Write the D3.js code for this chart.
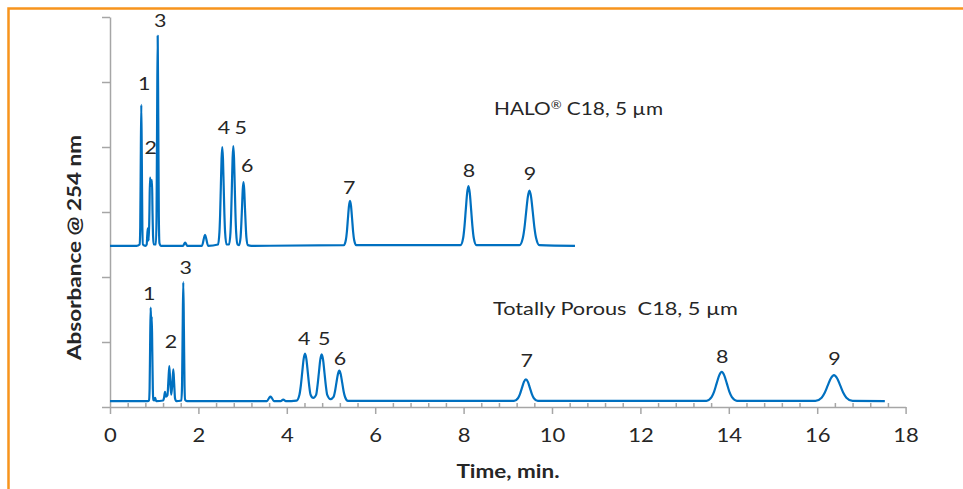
<!DOCTYPE html>
<html>
<head>
<meta charset="utf-8">
<script src="https://cdn.jsdelivr.net/npm/d3@7"></script>
<style>
  html, body { margin: 0; padding: 0; background: #ffffff; }
  svg { display: block; }
  text { font-family: "Lato", "Open Sans", sans-serif; fill: #262626; }
</style>
</head>
<body>
<svg id="chart" width="963" height="489"></svg>
<script>
// ---------------- data ----------------
// time (min), absorbance (arbitrary, offset traces)
const haloTrace = [
  [0, 2.48], [0.60, 2.48], [0.672, 2.50], [0.684, 2.77], [0.696, 3.80], [0.708, 4.65], [0.720, 3.80], [0.732, 2.77], [0.745, 2.50],
  [0.80, 2.48], [0.83, 2.50], [0.853, 2.75], [0.876, 2.56], [0.892, 3.00], [0.905, 3.53], [0.927, 3.40], [0.950, 3.49],
  [0.962, 3.00], [0.975, 2.62], [0.99, 2.50], [1.039, 2.50], [1.053, 2.92], [1.066, 4.45], [1.079, 5.71], [1.092, 4.45],
  [1.105, 2.92], [1.119, 2.52], [1.15, 2.48], [1.65, 2.48], [1.70, 2.53], [1.75, 2.48], [2.08, 2.48], [2.15, 2.65], [2.22, 2.48],
  [2.444, 2.50], [2.476, 2.69], [2.492, 2.97], [2.508, 3.40], [2.524, 3.82], [2.54, 4.00], [2.556, 3.82], [2.572, 3.40],
  [2.588, 2.97], [2.604, 2.69], [2.636, 2.50], [2.694, 2.50], [2.726, 2.69], [2.742, 2.98], [2.758, 3.41], [2.774, 3.83],
  [2.79, 4.015], [2.806, 3.83], [2.822, 3.41], [2.838, 2.98], [2.854, 2.69], [2.886, 2.50], [2.92, 2.49], [2.954, 2.61],
  [2.97, 2.80], [2.987, 3.07], [3.0035, 3.345], [3.02, 3.46], [3.0365, 3.345], [3.053, 3.07], [3.07, 2.80], [3.086, 2.61],
  [3.12, 2.49], [3.2, 2.48], [5.29, 2.49], [5.336, 2.57], [5.36, 2.70], [5.383, 2.90], [5.4065, 3.09], [5.43, 3.17],
  [5.4535, 3.09], [5.477, 2.90], [5.50, 2.70], [5.524, 2.57], [5.57, 2.49], [7.93, 2.49], [7.99, 2.60], [8.02, 2.78],
  [8.05, 3.04], [8.08, 3.29], [8.11, 3.40], [8.14, 3.29], [8.17, 3.04], [8.20, 2.78], [8.23, 2.60], [8.29, 2.49],
  [9.265, 2.49], [9.34, 2.60], [9.3775, 2.76], [9.415, 3.00], [9.4525, 3.23], [9.49, 3.33], [9.5275, 3.23], [9.565, 3.00],
  [9.6025, 2.76], [9.64, 2.60], [9.715, 2.49], [10.52, 2.48]
];

const porousTrace = [
  [0, 0.09], [0.85, 0.09], [0.884, 0.10], [0.896, 0.28], [0.908, 0.96], [0.92, 1.53], [0.932, 1.25], [0.945, 1.39],
  [0.957, 0.85], [0.969, 0.28], [0.981, 0.11], [1.00, 0.10], [1.02, 0.14], [1.045, 0.09], [1.20, 0.10], [1.225, 0.15],
  [1.244, 0.235], [1.265, 0.16], [1.30, 0.18], [1.322, 0.42], [1.342, 0.63], [1.362, 0.40], [1.385, 0.19], [1.412, 0.38],
  [1.433, 0.58], [1.452, 0.36], [1.472, 0.13], [1.50, 0.09], [1.615, 0.10], [1.63, 0.34], [1.644, 1.20], [1.658, 1.92],
  [1.672, 1.20], [1.686, 0.34], [1.70, 0.11], [1.74, 0.09], [3.55, 0.09], [3.60, 0.14], [3.63, 0.16], [3.66, 0.14],
  [3.71, 0.09], [3.86, 0.09], [3.92, 0.115], [3.98, 0.09], [4.22, 0.098], [4.286, 0.189], [4.317, 0.327], [4.349, 0.533],
  [4.38, 0.734], [4.412, 0.82], [4.444, 0.734], [4.475, 0.533], [4.507, 0.327], [4.538, 0.189], [4.60, 0.14],
  [4.663, 0.187], [4.694, 0.324], [4.726, 0.527], [4.757, 0.725], [4.789, 0.81], [4.821, 0.725], [4.852, 0.527],
  [4.884, 0.324], [4.915, 0.187], [4.99, 0.12], [5.058, 0.154], [5.091, 0.243], [5.123, 0.375], [5.156, 0.505],
  [5.188, 0.56], [5.22, 0.505], [5.253, 0.375], [5.285, 0.243], [5.318, 0.154], [5.383, 0.095], [9.14, 0.094],
  [9.23, 0.135], [9.275, 0.199], [9.32, 0.294], [9.365, 0.387], [9.41, 0.426], [9.455, 0.387], [9.50, 0.294],
  [9.545, 0.199], [9.59, 0.135], [9.68, 0.094], [13.495, 0.095], [13.61, 0.151], [13.668, 0.236], [13.725, 0.363],
  [13.783, 0.487], [13.84, 0.54], [13.897, 0.487], [13.955, 0.363], [14.012, 0.236], [14.07, 0.151], [14.185, 0.095],
  [15.96, 0.094], [16.10, 0.144], [16.17, 0.22], [16.24, 0.333], [16.31, 0.443], [16.38, 0.49], [16.45, 0.443],
  [16.52, 0.333], [16.59, 0.22], [16.66, 0.144], [16.80, 0.094], [17.53, 0.09]
];

const peakNames = ["1", "2", "3", "4", "5", "6", "7", "8", "9"];
const haloLabelPos = [[0.776, 4.88], [0.921, 3.89], [1.138, 5.84], [2.579, 4.195], [2.957, 4.195], [3.106, 3.62], [5.41, 3.27], [8.12, 3.54], [9.50, 3.49]];
const porousLabelPos = [[0.889, 1.646], [1.380, 0.912], [1.713, 2.046], [4.396, 0.954], [4.848, 0.954], [5.204, 0.646], [9.43, 0.61], [13.85, 0.68], [16.39, 0.646]];

const xTicks = [0, 2, 4, 6, 8, 10, 12, 14, 16, 18];
const xMinorTicks = d3.range(0, 18.001, 0.4).filter(v => Math.abs(v / 2 - Math.round(v / 2)) > 1e-6);
const yTicks = [0, 1, 2, 3, 4, 5, 6];

const haloTitle = "HALO";
const haloTitleRest = " C18, 5 µm";
const porousTitle = "Totally Porous  C18, 5 µm";
const xTitle = "Time, min.";
const yTitle = "Absorbance @ 254 nm";

// ---------------- drawing ----------------
const svg = d3.select("#chart");
const x = d3.scaleLinear().domain([0, 18]).range([110, 905.6]);
const y = d3.scaleLinear().domain([0, 6]).range([407, 17]);
const stretch = 1.19; // glyphs in the reference are wider than tall

// orange frame
svg.append("rect")
  .attr("x", 8.5).attr("y", 8.5).attr("width", 1000).attr("height", 600)
  .attr("fill", "none").attr("stroke", "#f7941d").attr("stroke-width", 2.5);

const axisColor = "#a6a6a6";

// y axis
const yAxis = svg.append("g").attr("transform", `translate(${x(0)},0)`)
  .call(d3.axisLeft(y).tickValues(yTicks).tickSize(8).tickSizeOuter(0).tickFormat(""));
yAxis.selectAll("path, line").attr("stroke", axisColor).attr("stroke-width", 1.5);

// x axis minor ticks
const xMinor = svg.append("g").attr("transform", `translate(0,${y(0)})`)
  .call(d3.axisBottom(x).tickValues(xMinorTicks).tickSizeInner(-4).tickSizeOuter(0).tickFormat(""));
xMinor.select(".domain").remove();
xMinor.selectAll("line").attr("stroke", axisColor).attr("stroke-width", 1.5).attr("y1", 1);

// x axis major
const xAxis = svg.append("g").attr("transform", `translate(0,${y(0)})`)
  .call(d3.axisBottom(x).tickValues(xTicks).tickSize(7).tickSizeOuter(0).tickFormat(d3.format("d")));
xAxis.selectAll("path, line").attr("stroke", axisColor).attr("stroke-width", 1.5);
xAxis.selectAll("text")
  .attr("y", 0).attr("dy", 0)
  .attr("transform", `translate(0,35) scale(${stretch},1)`)
  .style("font-size", "18.5px").style("font-family", "Lato").attr("fill", "#262626");

// traces
const line = d3.line().x(d => x(d[0])).y(d => y(d[1])).curve(d3.curveMonotoneX);
[haloTrace, porousTrace].forEach(tr => {
  svg.append("path").datum(tr)
    .attr("d", line)
    .attr("fill", "none")
    .attr("stroke", "#0070c0")
    .attr("stroke-width", 2.2)
    .attr("stroke-linejoin", "round");
});

// peak labels
function peakLabels(pos) {
  svg.append("g").selectAll("text").data(pos).join("text")
    .attr("transform", d => `translate(${x(d[0])},${y(d[1])}) scale(${stretch},1)`)
    .attr("text-anchor", "middle")
    .style("font-size", "18px")
    .text((d, i) => peakNames[i]);
}
peakLabels(haloLabelPos);
peakLabels(porousLabelPos);

// column titles
const ht = svg.append("text").attr("x", 494).attr("y", 115).style("font-size", "17.5px")
  .attr("textLength", 169).attr("lengthAdjust", "spacingAndGlyphs");
ht.append("tspan").text(haloTitle);
ht.append("tspan").attr("baseline-shift", "super").style("font-size", "11px").text("®");
ht.append("tspan").attr("baseline-shift", "0").text(haloTitleRest);

svg.append("text").attr("x", 493).attr("y", 315).style("font-size", "17.5px")
  .style("white-space", "pre").attr("textLength", 245).attr("lengthAdjust", "spacingAndGlyphs")
  .text(porousTitle);

// axis titles
svg.append("text").attr("x", 508).attr("y", 478).attr("text-anchor", "middle")
  .style("font-size", "19px").style("font-weight", "bold")
  .attr("textLength", 103).attr("lengthAdjust", "spacingAndGlyphs").text(xTitle);
svg.append("text").attr("transform", "translate(81,247.5) rotate(-90)").attr("text-anchor", "middle")
  .style("font-size", "19px").style("font-weight", "bold")
  .attr("textLength", 225).attr("lengthAdjust", "spacingAndGlyphs").text(yTitle);
</script>
</body>
</html>
